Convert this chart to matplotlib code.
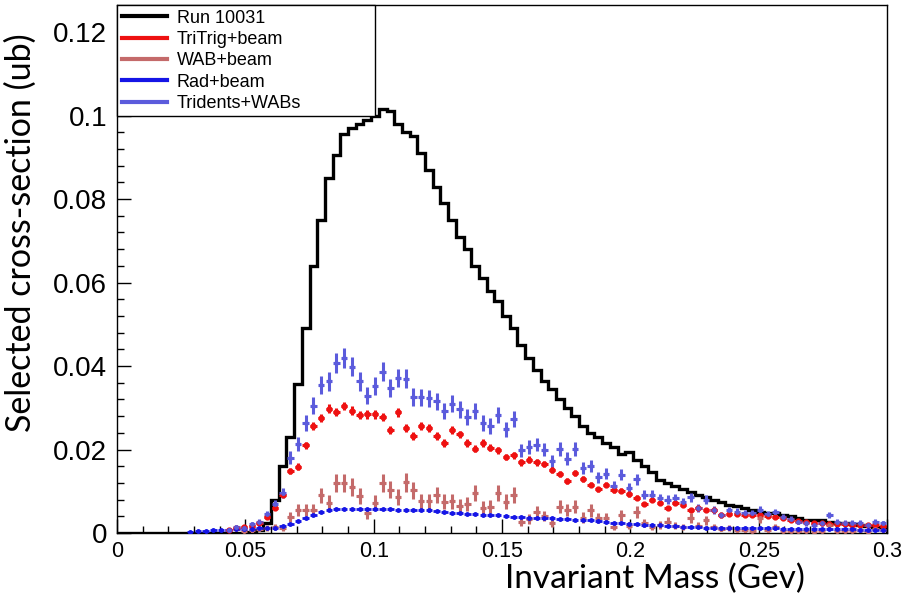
import numpy as np
import matplotlib
matplotlib.use("Agg")
import matplotlib.pyplot as plt
from matplotlib.lines import Line2D
from matplotlib.ticker import MultipleLocator

nan = np.nan
# 100 bins of 0.003 GeV from 0 to 0.3
bin_edges_range = (0.0, 0.3)
n_bins = 100

run_10031 = [0]*17 + [
    0.0003, 0.0008, 0.0024, 0.008, 0.016, 0.0229, 0.0357, 0.049, 0.064, 0.075,
    0.085, 0.0906, 0.0955, 0.097, 0.098, 0.099, 0.0998, 0.1015, 0.101, 0.098,
    0.096, 0.095, 0.091, 0.087, 0.083, 0.079, 0.075, 0.071, 0.068, 0.064,
    0.061, 0.058, 0.0555, 0.052, 0.049, 0.045, 0.042, 0.039, 0.0365, 0.0345,
    0.032, 0.030, 0.028, 0.0256, 0.024, 0.023, 0.0216, 0.0205, 0.019, 0.0193,
    0.0176, 0.016, 0.0145, 0.0128, 0.012, 0.0112, 0.0105, 0.0098, 0.0092, 0.0087,
    0.0080, 0.0075, 0.0068, 0.0064, 0.0060, 0.0055, 0.0051, 0.0049, 0.0047, 0.0043,
    0.0040, 0.0037, 0.0031, 0.0031, 0.0030, 0.0026, 0.0025, 0.0024, 0.0021, 0.0019,
    0.0017, 0.0015, 0.0014]

tritrig_beam = [nan]*14 + [
    0.0008, 0.0013, 0.0015, 0.0017, 0.0023, 0.0039, 0.006, 0.0092, 0.0148, 0.0159,
    0.021, 0.0256, 0.0276, 0.0298, 0.029, 0.0304, 0.0293, 0.0282, 0.0284, 0.0284,
    0.0278, 0.0246, 0.0289, 0.0252, 0.0233, 0.0257, 0.0252, 0.0232, 0.0216, 0.0246,
    0.0236, 0.0216, 0.0202, 0.0216, 0.0204, 0.0198, 0.0182, 0.0186, 0.0169, 0.0176,
    0.0169, 0.0165, 0.0152, 0.0141, 0.0125, 0.0144, 0.0129, 0.0116, 0.0105, 0.0116,
    0.0102, 0.0101, 0.0093, 0.0085, 0.007, 0.008, 0.0073, 0.006, 0.0072, 0.0067,
    0.0054, 0.006, 0.0055, 0.0055, 0.0043, 0.0045, 0.0046, 0.0043, 0.0043, 0.0042,
    0.004, 0.0039, 0.0035, 0.0031, 0.0028, 0.0026, 0.0025, 0.0024, 0.0022, 0.0022,
    0.0021, 0.002, 0.0019, 0.0018, 0.0018, 0.0017]

wab_beam = [nan]*16 + [
    0.0004, 0.0006, 0.001, 0.0012, 0.0015, 0.0012, 0.0038, 0.0055, 0.0055, 0.0055,
    0.009, 0.0073, 0.012, 0.0119, 0.011, 0.0088, 0.0047, 0.0073, 0.0119, 0.0104,
    0.0086, 0.0121, 0.0102, 0.0076, 0.0076, 0.0092, 0.0075, 0.0076, 0.0065, 0.007,
    0.0096, 0.006, 0.0063, 0.0096, 0.0075, 0.0092, 0.0027, 0.0034, 0.0051, 0.0041,
    0.0023, 0.0063, 0.0055, 0.0063, 0.0037, 0.0054, 0.0035, 0.0035, 0.0014, 0.0043,
    0.0017, 0.0051, 0.0023, 0.0014, 0.0019, 0.0027, 0.0017, 0.0015, 0.0035, 0.0017,
    0.003, 0.0015, 0.001, 0.0012, 0.0008, 0.0006, 0.0005, 0.0035, 0.0006, 0.0015,
    0.0005, 0.0004, 0.0005, 0.0004, 0.0003, 0.0004, 0.0019, 0.0005, 0.0004, 0.0005,
    0.0006, 0.0003, 0.0009, 0.0006]

rad_beam = [nan]*9 + [
    0.0003, 0.0004, 0.0005, 0.0006, 0.0007, 0.0008, 0.0009, 0.001, 0.001, 0.0011,
    0.0011, 0.0013, 0.0016, 0.0022, 0.0029, 0.0037, 0.0043, 0.005, 0.0056, 0.0057,
    0.0058, 0.0058, 0.0058, 0.0058, 0.0057, 0.0057, 0.0057, 0.0056, 0.0056, 0.0055,
    0.0055, 0.0054, 0.0052, 0.005, 0.0048, 0.0047, 0.0046, 0.0045, 0.0044, 0.0043,
    0.0042, 0.004, 0.0039, 0.0038, 0.0037, 0.0036, 0.0035, 0.0035, 0.0034, 0.0033,
    0.0032, 0.0031, 0.003, 0.0028, 0.0027, 0.0025, 0.0024, 0.0022, 0.0021, 0.002,
    0.0019, 0.0018, 0.0017, 0.0016, 0.0015, 0.0015, 0.0014, 0.0013, 0.0012, 0.0012,
    0.0012, 0.0012, 0.0012, 0.0011, 0.0011, 0.0011, 0.0011, 0.001, 0.001, 0.001,
    0.001, 0.001, 0.0009, 0.0009, 0.0009, 0.0009, 0.0009, 0.0008, 0.0008, 0.0008,
    0.0008]

tridents_wabs = [nan]*14 + [
    0.0008, 0.0015, 0.0012, 0.0022, 0.0027, 0.0045, 0.007, 0.0096, 0.018, 0.0214,
    0.0264, 0.0305, 0.0355, 0.0363, 0.0407, 0.042, 0.0398, 0.0363, 0.0329, 0.0353,
    0.0386, 0.0347, 0.0371, 0.037, 0.0326, 0.0325, 0.0323, 0.0316, 0.0292, 0.031,
    0.0296, 0.0279, 0.0292, 0.0264, 0.0256, 0.0282, 0.0248, 0.0274, 0.0198, 0.0206,
    0.0212, 0.02, 0.0172, 0.0202, 0.0178, 0.0202, 0.0156, 0.016, 0.0134, 0.0142,
    0.0112, 0.014, 0.0108, 0.0129, 0.0092, 0.0092, 0.0084, 0.008, 0.0084, 0.0075,
    0.0086, 0.006, 0.008, 0.0055, 0.0043, 0.0054, 0.0051, 0.0047, 0.0048, 0.0055,
    0.0045, 0.005, 0.0038, 0.0033, 0.0027, 0.0023, 0.0019, 0.0023, 0.0043, 0.0027,
    0.0025, 0.0025, 0.0025, 0.0019, 0.0027, 0.0023]

labels = ["Run 10031", "TriTrig+beam", "WAB+beam", "Rad+beam", "Tridents+WABs"]
colors = ["#000000", "#ee1111", "#c46a6a", "#1515e6", "#5b5bdc"]
# relative statistical error scale (error ~ k*sqrt(content))
err_scale = {"TriTrig+beam": 0.0060, "WAB+beam": 0.020, "Rad+beam": 0.0035,
             "Tridents+WABs": 0.0115}

edges = np.linspace(bin_edges_range[0], bin_edges_range[1], n_bins + 1)
centers = 0.5 * (edges[:-1] + edges[1:])
half_w = 0.5 * (edges[1] - edges[0])

fig = plt.figure(figsize=(9.03, 5.94), dpi=100)
ax = fig.add_axes([0.1296, 0.1027, 0.8527, 0.8889])

ax.stairs(np.array(run_10031), edges, color=colors[0], lw=2.4, zorder=3)

series = [("TriTrig+beam", tritrig_beam, colors[1], 2.2, 3.5),
          ("WAB+beam", wab_beam, colors[2], 2.2, 2.5),
          ("Rad+beam", rad_beam, colors[3], 2.0, 2.5),
          ("Tridents+WABs", tridents_wabs, colors[4], 2.2, 2.5)]
for name, vals, col, elw, ms in series:
    y = np.array(vals, dtype=float)
    m = ~np.isnan(y)
    err = err_scale[name] * np.sqrt(y[m])
    ax.errorbar(centers[m], y[m], xerr=half_w * 0.85, yerr=err, fmt='o', ms=ms,
                color=col, mec=col, elinewidth=elw, capsize=0, zorder=4)

ax.set_xlim(0, 0.3)
ax.set_ylim(0, 0.1265)
ax.xaxis.set_major_locator(MultipleLocator(0.05))
ax.xaxis.set_minor_locator(MultipleLocator(0.01))
ax.yaxis.set_major_locator(MultipleLocator(0.02))
ax.yaxis.set_minor_locator(MultipleLocator(0.004))
ax.tick_params(axis='both', which='both', direction='in', top=False, right=False, width=1)
ax.tick_params(axis='both', which='major', length=10)
ax.tick_params(axis='both', which='minor', length=5)
ax.tick_params(axis='y', which='major', labelsize=20, pad=7)
ax.tick_params(axis='x', which='major', labelsize=15.5, pad=5.5)
for lab in ax.get_xticklabels() + ax.get_yticklabels():
    lab.set_fontfamily("Liberation Sans")
ax.xaxis.set_major_formatter(matplotlib.ticker.FuncFormatter(lambda v, p: f"{v:g}"))
ax.yaxis.set_major_formatter(matplotlib.ticker.FuncFormatter(lambda v, p: f"{v:g}"))
for sp in ax.spines.values():
    sp.set_linewidth(1.0)

handles = [Line2D([], [], color=c, lw=3) for c in colors]
leg = ax.legend(handles, labels, loc='upper left', bbox_to_anchor=(0.0, 1.0, 0.335, 0.0),
                mode='expand', fancybox=False, framealpha=1, edgecolor='black',
                prop={'family': 'Liberation Sans', 'size': 13}, handlelength=2.5,
                handletextpad=0.55, labelspacing=0.24, borderpad=0.25, borderaxespad=0)
leg.get_frame().set_linewidth(1.0)
leg.set_zorder(10)

fig.text(21/903, 1 - 233/594, "Selected cross-section (ub)", rotation=90,
         ha='center', va='center', fontsize=24.5, family="Lato")
fig.text(655/903, 1 - 588/594, "Invariant Mass (Gev)", ha='center', va='baseline',
         fontsize=24, family="Lato")

fig.savefig("out.png", dpi=100)
